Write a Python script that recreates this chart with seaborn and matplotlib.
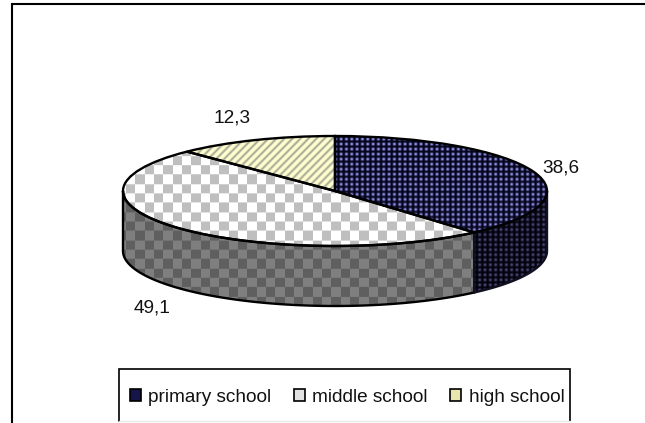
import numpy as np
import matplotlib
matplotlib.use("Agg")
import matplotlib.pyplot as plt
from matplotlib.patches import Patch
import seaborn as sns

categories = ["primary school", "middle school", "high school"]
shares = [38.6, 49.1, 12.3]
share_labels = ["38,6", "49,1", "12,3"]
legend_colors = ["#15154a", "#e2e2e2", "#e6e6ae"]

W, H = 645, 423
sns.set_theme(style="white")
plt.rcParams["font.family"] = ["Liberation Sans", "DejaVu Sans"]

fig = plt.figure(figsize=(W / 100, H / 100), dpi=100, facecolor="white")


def px_axes(left, top, right, bottom, **kw):
    return fig.add_axes([left / W, 1 - bottom / H, (right - left) / W, (bottom - top) / H], **kw)


# Outer chart area: only the top and left edges fall inside the canvas
page = px_axes(0, 0, W, H)
page.set_xlim(0, W)
page.set_ylim(H, 0)
page.axis("off")
page.plot([11.5, 11.5, W], [H, 4.5, 4.5], color="black", lw=1.5, solid_joinstyle="miter")
page.plot([118.5, 118.5, 569.5, 569.5], [H - 2, 369.5, 369.5, H - 2], color="black", lw=1.2,
          solid_joinstyle="miter")
page.plot([118.5, 569.5], [421.5, 421.5], color="#e8e8e8", lw=1)

# Disc geometry: the top face is an ellipse, the wall hangs below it
LEFT, RIGHT, TOP, FACE_BOTTOM, DISC_BOTTOM = 123, 547, 136, 246, 306
RY = (FACE_BOTTOM - TOP) / 2
depth = (DISC_BOTTOM - FACE_BOTTOM) / RY

ax = px_axes(LEFT - 2, TOP - 2, RIGHT + 2, DISC_BOTTOM + 2)
wedges, _ = ax.pie(shares, startangle=90, counterclock=False, radius=1, center=(0, 0),
                   wedgeprops=dict(facecolor="none", edgecolor="black", linewidth=1.7, zorder=5))
ax.set_aspect("auto")
pad_x = 2 / ((RIGHT - LEFT) / 2)
pad_y = 2 / RY
xlim = (-1 - pad_x, 1 + pad_x)
ylim = (-1 - depth - pad_y, 1 + pad_y)

# Fill textures, laid out on the pixel grid of the figure
xs = np.arange(LEFT - 2, RIGHT + 2) + 0.5
ys = np.arange(TOP - 2, DISC_BOTTOM + 2) + 0.5
X, Y = np.meshgrid(xs, ys)


def mix(a, b, t):
    a, b = np.array(matplotlib.colors.to_rgb(a)), np.array(matplotlib.colors.to_rgb(b))
    return a + (b - a) * t[..., None]


dots = (0.5 + 0.5 * np.cos(2 * np.pi * X / 5.33)) * (0.5 + 0.5 * np.cos(2 * np.pi * Y / 5.0))
dots_tex = mix("#04041c", "#8c8ce0", np.clip(dots * 1.15, 0, 1))

checker = ((np.floor((X - 210) / 9.33) + np.floor((Y - 194) / 9.33)) % 2 == 0).astype(float)
checker_tex = mix("#ffffff", "#bfbfbf", checker)

stripes = 0.5 + 0.5 * np.cos(2 * np.pi * (X + Y) / 8.0)
stripe_tex = mix("#ffffcf", "#aaaa98", np.clip(stripes * 1.6 - 0.6, 0, 1))

extent = (xlim[0], xlim[1], ylim[0], ylim[1])


def textured(tex, clip, z):
    im = ax.imshow(tex, extent=extent, origin="upper", aspect="auto", interpolation="bilinear", zorder=z)
    im.set_clip_path(clip)


for wedge, tex in zip(wedges, [dots_tex, checker_tex, stripe_tex]):
    textured(tex, wedge, 3)


# Wall sections follow the slice angles, measured clockwise from twelve o'clock
def wall(start, end, tex, edge):
    t = np.radians(np.linspace(start, end, 120))
    px = np.r_[np.sin(t), np.sin(t[::-1])]
    py = np.r_[np.cos(t), np.cos(t[::-1]) - depth]
    poly = ax.fill(px, py, facecolor="none", edgecolor=edge, linewidth=1.7, zorder=4)[0]
    textured(tex * 0.5, poly, 2)


first_end = 360 * shares[0] / sum(shares)
wall(first_end, 270, checker_tex, "black")
wall(90, first_end, dots_tex, "#101020")

ax.set_xlim(xlim)
ax.set_ylim(ylim)
ax.patch.set_visible(False)

# Value labels sit outside the disc
label_pos = [(561, 168), (152, 308), (232, 118)]
for text, (lx, ly) in zip(share_labels, label_pos):
    page.text(lx, ly, text, ha="center", va="center", fontsize=13.7, color="#111111")

handles = [Patch(facecolor=c, edgecolor="black", linewidth=1.2) for c in legend_colors]
fig.legend(handles, categories, ncol=3, frameon=False, fontsize=13.7, labelcolor="#111111",
           loc="center left", bbox_to_anchor=(130 / W, 1 - 397.5 / H), borderpad=0.0, borderaxespad=0.0,
           handlelength=0.58, handleheight=0.58, handletextpad=0.37, columnspacing=1.2)

fig.savefig("out.png", dpi=100)
